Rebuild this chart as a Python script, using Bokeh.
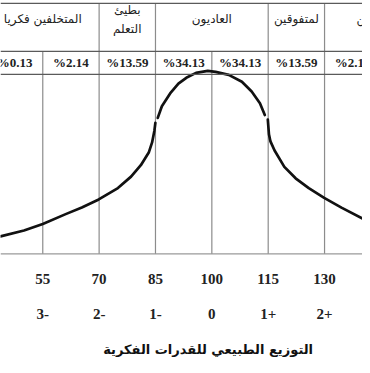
from bokeh.plotting import figure
from bokeh.models import Range1d, Span, ColumnDataSource
from bokeh.core.properties import value
from bokeh.embed import file_html
from bokeh.resources import INLINE

# ---- data ----
iq_ticks = [55, 70, 85, 100, 115, 130]
sd_labels = ["3-", "2-", "1-", "0", "1+", "2+"]

pct_from = [40, 55, 70, 85, 100, 115, 130]
pct_to = [55, 70, 85, 100, 115, 130, 145]
pct_labels = ["%0.13", "%2.14", "%13.59", "%34.13", "%34.13", "%13.59", "%2.14"]

group_labels = ["المتخلفين فكريا", "بطيئ\nالتعلم", "العاديون", "لمتفوقين", "الموهوبين"]
group_from = [40, 70, 85, 115, 130]
group_to = [70, 85, 115, 130, 160]

# curve (IQ, relative height)
left_iq = [43.75, 50.0, 55.0, 61.1, 65.4, 69.9, 75.0, 78.5, 81.1, 83.25, 84.1, 84.7, 84.97]
left_h = [18, 24, 30.7, 40.7, 47.5, 55.7, 67.3, 79, 90.7, 104, 114, 125.7, 134]
dome_iq = [85.6, 86.7, 88.9, 91.1, 93.2, 95.8, 98.9, 101.0, 104.5, 108.0, 110.6, 112.8, 114.1]
dome_h = [139, 151, 164, 174, 180, 185, 187, 186, 183, 176, 166, 154, 142]
right_iq = [114.9, 115.2, 115.6, 116.7, 119.3, 122.3, 125.8, 129.9, 134.5, 140.1]
right_h = [137.3, 122.3, 115, 105.7, 89, 77.3, 67.3, 57.3, 47.3, 36.3]

title_text = "التوزيع الطبيعي للقدرات الفكرية"

# ---- layout constants ----
TABLE_TOP = 256
TABLE_MID = 207
TABLE_BOT = 183.5
HEADER_Y = 240
PCT_Y = 196
TICK_Y = -26
SD_Y = -61
TITLE_Y = -98

p = figure(width=362, height=365, output_backend="svg", toolbar_location=None,
           x_range=Range1d(43.75, 140.1), y_range=Range1d(-114, 259),
           x_axis_location=None, y_axis_location=None, min_border=0,
           background_fill_color="white", border_fill_color="white")
p.outline_line_color = None
p.grid.visible = False

grey = "#8c8c8c"
dark = "#5a5a5a"

# horizontal table lines and baseline
for yv, col in [(TABLE_TOP, dark), (TABLE_MID, dark), (TABLE_BOT, dark), (0, "#9a9a9a")]:
    p.add_layout(Span(location=yv, dimension="width", line_color=col, line_width=1.2))

# vertical lines: chart grid + percentage-row separators
p.segment(x0=iq_ticks, x1=iq_ticks, y0=[0] * len(iq_ticks), y1=[TABLE_MID] * len(iq_ticks),
          line_color=grey, line_width=1.2)
# header separators (group boundaries)
bounds = sorted(set(group_from[1:]))
p.segment(x0=bounds, x1=bounds, y0=[TABLE_MID] * len(bounds), y1=[TABLE_TOP] * len(bounds),
          line_color=grey, line_width=1.2)

# curve (three strokes, as drawn in the original)
for xs, ys in [(left_iq, left_h), (dome_iq, dome_h), (right_iq, right_h)]:
    p.line(xs, ys, line_color="#111111", line_width=2.7, line_cap="round", line_join="round")

# header texts
gsrc = ColumnDataSource(dict(x=[(a + b) / 2 for a, b in zip(group_from, group_to)],
                             y=[HEADER_Y] * len(group_labels), t=group_labels))
p.text(x="x", y="y", text="t", source=gsrc, text_align="center", text_baseline="middle",
       text_font=value("DejaVu Sans"), text_font_size="12px", text_color="#222222",
       text_line_height=1.35)

# percentage texts
psrc = ColumnDataSource(dict(x=[(a + b) / 2 for a, b in zip(pct_from, pct_to)],
                             y=[PCT_Y] * len(pct_labels), t=pct_labels))
p.text(x="x", y="y", text="t", source=psrc, text_align="center", text_baseline="middle",
       text_font=value("Liberation Serif"), text_font_size="13px", text_font_style="bold",
       text_color="#222222")

# IQ tick labels
tsrc = ColumnDataSource(dict(x=iq_ticks, y=[TICK_Y] * len(iq_ticks), t=[str(v) for v in iq_ticks]))
p.text(x="x", y="y", text="t", source=tsrc, text_align="center", text_baseline="middle",
       text_font=value("Liberation Serif"), text_font_size="15px", text_font_style="bold",
       text_color="#222222")

# SD labels
ssrc = ColumnDataSource(dict(x=iq_ticks, y=[SD_Y] * len(iq_ticks), t=sd_labels))
p.text(x="x", y="y", text="t", source=ssrc, text_align="center", text_baseline="middle",
       text_font=value("Liberation Serif"), text_font_size="15px", text_font_style="bold",
       text_color="#222222")

# title
p.text(x=[99], y=[TITLE_Y], text=[title_text], text_align="center", text_baseline="middle",
       text_font=value("DejaVu Sans"), text_font_size="13px", text_font_style="bold",
       text_color="#111111")

open("out.html", "w").write(file_html(p, INLINE))
